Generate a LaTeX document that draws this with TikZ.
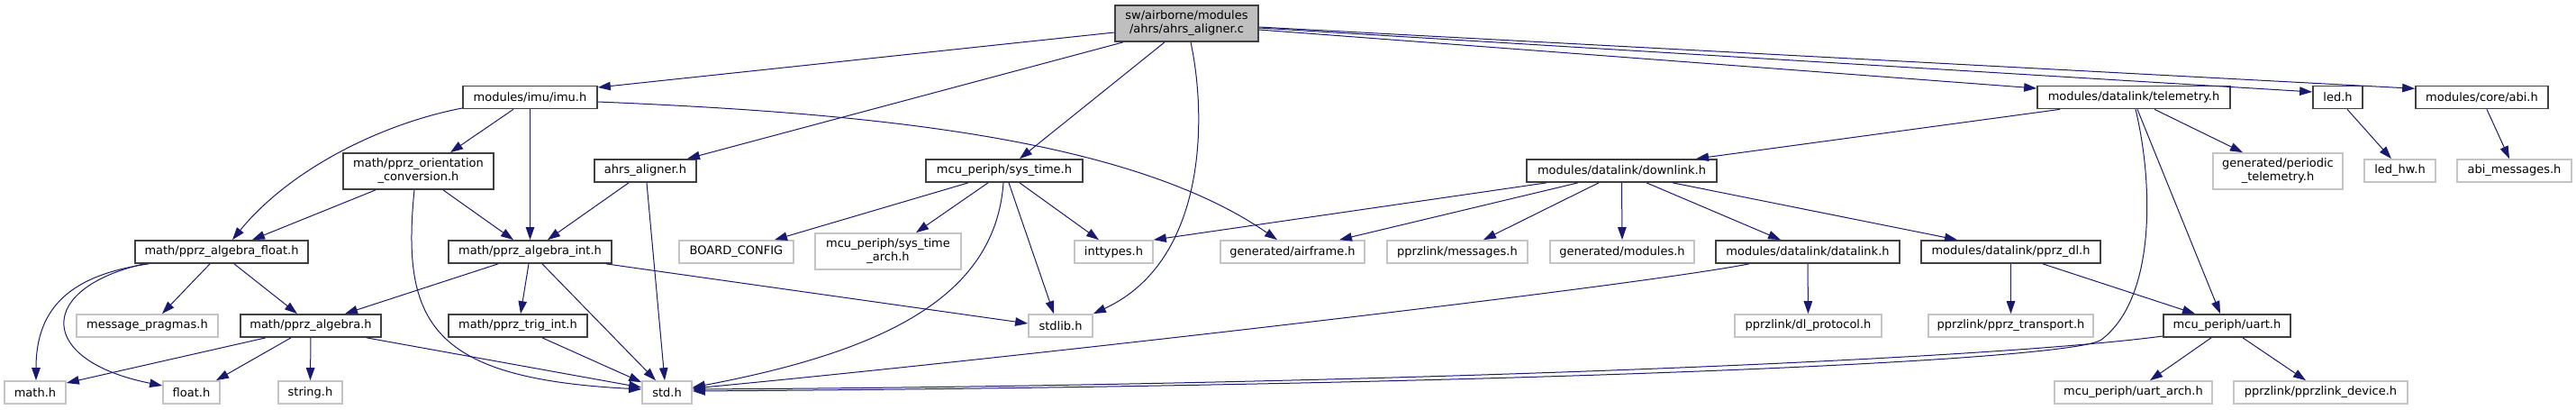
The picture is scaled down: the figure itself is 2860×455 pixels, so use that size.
\documentclass[tikz,border=0pt]{standalone}
\usepackage{fontspec}
\setmainfont{DejaVu Sans}
\usetikzlibrary{arrows.meta}
\definecolor{edgec}{HTML}{191970}
\definecolor{graybd}{HTML}{C4C4C4}
\definecolor{docbd}{HTML}{404040}
\definecolor{rootfill}{HTML}{BFBFBF}
\begin{document}
\begin{tikzpicture}[x=1pt,y=-1pt,font=\fontsize{13}{15}\selectfont,
  doc/.style={draw=docbd, line width=1.7pt, inner sep=0pt, minimum height=25pt, align=center},
  ext/.style={doc, draw=graybd},
  link/.style={draw=edgec, line width=1pt, -{Triangle[length=14pt,width=9.5pt]}}]
\useasboundingbox (0,0) rectangle (2860,455);
% nodes
\node[doc, fill=rootfill, minimum width=159pt, minimum height=40pt] (root) at (1317.5,26) {sw/airborne/modules\\/ahrs/ahrs\_aligner.c};
\node[doc, minimum width=149pt] (imu) at (588.5,108) {modules/imu/imu.h};
\node[doc, minimum width=167pt, minimum height=40pt] (orient) at (464.5,190) {math/pprz\_orientation\\\_conversion.h};
\node[doc, minimum width=113pt] (ahrsh) at (716.5,189.5) {ahrs\_aligner.h};
\node[doc, minimum width=192pt] (algfloat) at (246,279.5) {math/pprz\_algebra\_float.h};
\node[doc, minimum width=181pt] (algint) at (588.5,279.5) {math/pprz\_algebra\_int.h};
\node[ext, minimum width=127pt] (boardcfg) at (817.5,279.5) {BOARD\_CONFIG};
\node[ext, minimum width=162pt, minimum height=40pt] (systimearch) at (986,279) {mcu\_periph/sys\_time\\\_arch.h};
\node[doc, minimum width=174pt] (systime) at (1115,189.5) {mcu\_periph/sys\_time.h};
\node[ext, minimum width=87pt] (inttypes) at (1236.5,279.5) {inttypes.h};
\node[ext, minimum width=160pt] (airframe) at (1435,279.5) {generated/airframe.h};
\node[ext, minimum width=156pt] (messages) at (1618,279.5) {pprzlink/messages.h};
\node[ext, minimum width=160pt] (modules) at (1801,279.5) {generated/modules.h};
\node[doc, minimum width=204pt] (datalink) at (2007,279.5) {modules/datalink/datalink.h};
\node[doc, minimum width=199pt] (pprzdl) at (2232.5,279.5) {modules/datalink/pprz\_dl.h};
\node[doc, minimum width=211pt] (downlink) at (1800.5,189.5) {modules/datalink/downlink.h};
\node[doc, minimum width=214pt] (telemetry) at (2369,108) {modules/datalink/telemetry.h};
\node[doc, minimum width=55pt] (led) at (2595.5,108) {led.h};
\node[doc, minimum width=147pt] (abi) at (2755.5,108) {modules/core/abi.h};
\node[ext, minimum width=144pt, minimum height=40pt] (periodic) at (2529,190) {generated/periodic\\\_telemetry.h};
\node[ext, minimum width=79pt] (ledhw) at (2664.5,189.5) {led\_hw.h};
\node[ext, minimum width=127pt] (abimsg) at (2791.5,189.5) {abi\_messages.h};
\node[ext, minimum width=157pt] (msgpragmas) at (163.5,361.5) {message\_pragmas.h};
\node[doc, minimum width=156pt] (algebra) at (345,361.5) {math/pprz\_algebra.h};
\node[doc, minimum width=154pt] (trigint) at (575,361.5) {math/pprz\_trig\_int.h};
\node[ext, minimum width=71pt] (stdlib) at (1177.5,361.5) {stdlib.h};
\node[ext, minimum width=163pt] (dlprotocol) at (2007.5,361.5) {pprzlink/dl\_protocol.h};
\node[ext, minimum width=183pt] (transport) at (2232.5,361.5) {pprzlink/pprz\_transport.h};
\node[doc, minimum width=141pt] (uart) at (2472.5,361.5) {mcu\_periph/uart.h};
\node[ext, minimum width=68pt] (mathh) at (39,435.5) {math.h};
\node[ext, minimum width=63pt] (floath) at (212.5,435.5) {float.h};
\node[ext, minimum width=71pt] (stringh) at (344.5,435.5) {string.h};
\node[ext, minimum width=55pt] (stdh) at (740.5,435.5) {std.h};
\node[ext, minimum width=175pt] (uartarch) at (2368.5,435.5) {mcu\_periph/uart\_arch.h};
\node[ext, minimum width=193pt] (device) at (2576.5,435.5) {pprzlink/pprzlink\_device.h};
% edges from root
\draw[link] ([yshift=-10pt]root.west) -- ([yshift=11pt]imu.east);
\draw[link] ([xshift=-70.5pt]root.south) -- ([xshift=46.5pt]ahrsh.north);
\draw[link] ([xshift=-24.5pt]root.south) -- ([xshift=17pt]systime.north);
\draw[link] ([xshift=4.5pt]root.south) .. controls (1340,130) and (1340,290) .. (stdlib.north east);
\draw[link] ([yshift=-7pt]root.east) -- ([yshift=10pt]telemetry.west);
\draw[link] ([yshift=-5pt]root.east) -- ([yshift=6pt]led.west);
\draw[link] ([yshift=-4pt]root.east) -- ([yshift=9.7pt]abi.west);
% imu
\draw[link] ([yshift=-12pt]imu.west) .. controls (420,138) and (320,190) .. ([xshift=12pt]algfloat.north);
\draw[link] ([xshift=-18.5pt]imu.south) -- ([xshift=35.5pt]orient.north);
\draw[link] (imu.south) -- (algint.north);
\draw[link] ([yshift=-5pt]imu.east) .. controls (950,125) and (1250,150) .. ([xshift=-17pt]airframe.north);
% orientation
\draw[link] ([xshift=-47.5pt]orient.south) -- ([xshift=34pt]algfloat.north);
\draw[link] ([xshift=27.5pt]orient.south) -- ([xshift=-18.5pt]algint.north);
\draw[link] ([xshift=-4.5pt]orient.south) .. controls (445,360) and (480,420) .. ([yshift=3.5pt]stdh.west);
% ahrs_aligner.h
\draw[link] ([xshift=-18.5pt]ahrsh.south) -- ([xshift=19.5pt]algint.north);
\draw[link] ([xshift=1.5pt]ahrsh.south) -- ([xshift=-2.5pt]stdh.north);
% algebra float
\draw[link] ([xshift=-81pt]algfloat.south) .. controls (80,305) and (40,340) .. ([xshift=1pt]mathh.north);
\draw[link] ([xshift=-86pt]algfloat.south) .. controls (40,320) and (40,400) .. ([yshift=7.5pt]floath.west);
\draw[link] ([xshift=-13pt]algfloat.south) -- ([xshift=16.5pt]msgpragmas.north);
\draw[link] ([xshift=14pt]algfloat.south) -- ([xshift=-15pt]algebra.north);
% algebra int
\draw[link] ([xshift=-35.5pt]algint.south) -- ([xshift=38pt]algebra.north);
\draw[link] ([xshift=-1.5pt]algint.south) -- ([xshift=3pt]trigint.north);
\draw[link] ([xshift=13.5pt]algint.south) -- ([xshift=-12.5pt]stdh.north);
\draw[link] ([xshift=84.5pt]algint.south) -- ([yshift=2.5pt]stdlib.west);
% algebra
\draw[link] ([xshift=-50pt]algebra.south) -- ([yshift=10.5pt]mathh.east);
\draw[link] ([xshift=-22pt]algebra.south) -- ([xshift=27.5pt]floath.north);
\draw[link] (algebra.south) -- (stringh.north);
\draw[link] ([xshift=62pt]algebra.south) -- ([yshift=5.5pt]stdh.west);
% trig int
\draw[link] ([xshift=27pt]trigint.south) -- ([yshift=-2pt]stdh.north west);
% sys_time
\draw[link] ([xshift=-40pt]systime.south) -- ([xshift=42.5pt]boardcfg.north);
\draw[link] ([xshift=-18pt]systime.south) -- ([xshift=31pt]systimearch.north);
\draw[link] ([xshift=-1pt]systime.south) .. controls (1105,330) and (980,390) .. ([yshift=5.5pt]stdh.east);
\draw[link] ([xshift=5pt]systime.south) -- ([xshift=-7.5pt]stdlib.north);
\draw[link] ([xshift=17pt]systime.south) -- ([xshift=-16.5pt]inttypes.north);
% downlink
\draw[link] ([xshift=-83.5pt]downlink.south) -- (inttypes.north east);
\draw[link] ([xshift=-48.5pt]downlink.south) -- ([xshift=52pt]airframe.north);
\draw[link] ([xshift=-25.5pt]downlink.south) -- ([xshift=29pt]messages.north);
\draw[link] (downlink.south) -- (modules.north);
\draw[link] ([xshift=27.5pt]downlink.south) -- ([xshift=-30pt]datalink.north);
\draw[link] ([xshift=56.5pt]downlink.south) -- ([xshift=-59.5pt]pprzdl.north);
% telemetry
\draw[link] ([xshift=-82pt]telemetry.south) -- ([xshift=82.5pt]downlink.north);
\draw[link] ([xshift=23pt]telemetry.south) -- ([xshift=-39pt]periodic.north);
\draw[link] ([xshift=4pt]telemetry.south) -- ([xshift=-7.5pt]uart.north);
\draw[link] ([xshift=2pt]telemetry.south) .. controls (2390,200) and (2395,330) .. (2333,377) .. controls (2302,400) and (1700,428) .. ([yshift=1.5pt]stdh.east);
% datalink
\draw[link] (datalink.south) -- (dlprotocol.north);
\draw[link] ([xshift=-65pt]datalink.south) .. controls (1800,320) and (1100,400) .. ([yshift=4.5pt]stdh.east);
% pprz_dl
\draw[link] (pprzdl.south) -- (transport.north);
\draw[link] ([xshift=35.5pt]pprzdl.south) -- ([xshift=-35.5pt]uart.north);
% uart
\draw[link] ([xshift=-17.5pt]uart.south) -- ([xshift=18.5pt]uartarch.north);
\draw[link] ([xshift=17.5pt]uart.south) -- ([xshift=-16.5pt]device.north);
\draw[link] ([yshift=-11.5pt]uart.west) .. controls (2200,400) and (1500,428) .. ([yshift=3.5pt]stdh.east);
% led, abi
\draw[link] ([xshift=10.5pt]led.south) -- ([xshift=-9.5pt]ledhw.north);
\draw[link] ([xshift=5.5pt]abi.south) -- ([xshift=-5.5pt]abimsg.north);
\end{tikzpicture}
\end{document}
